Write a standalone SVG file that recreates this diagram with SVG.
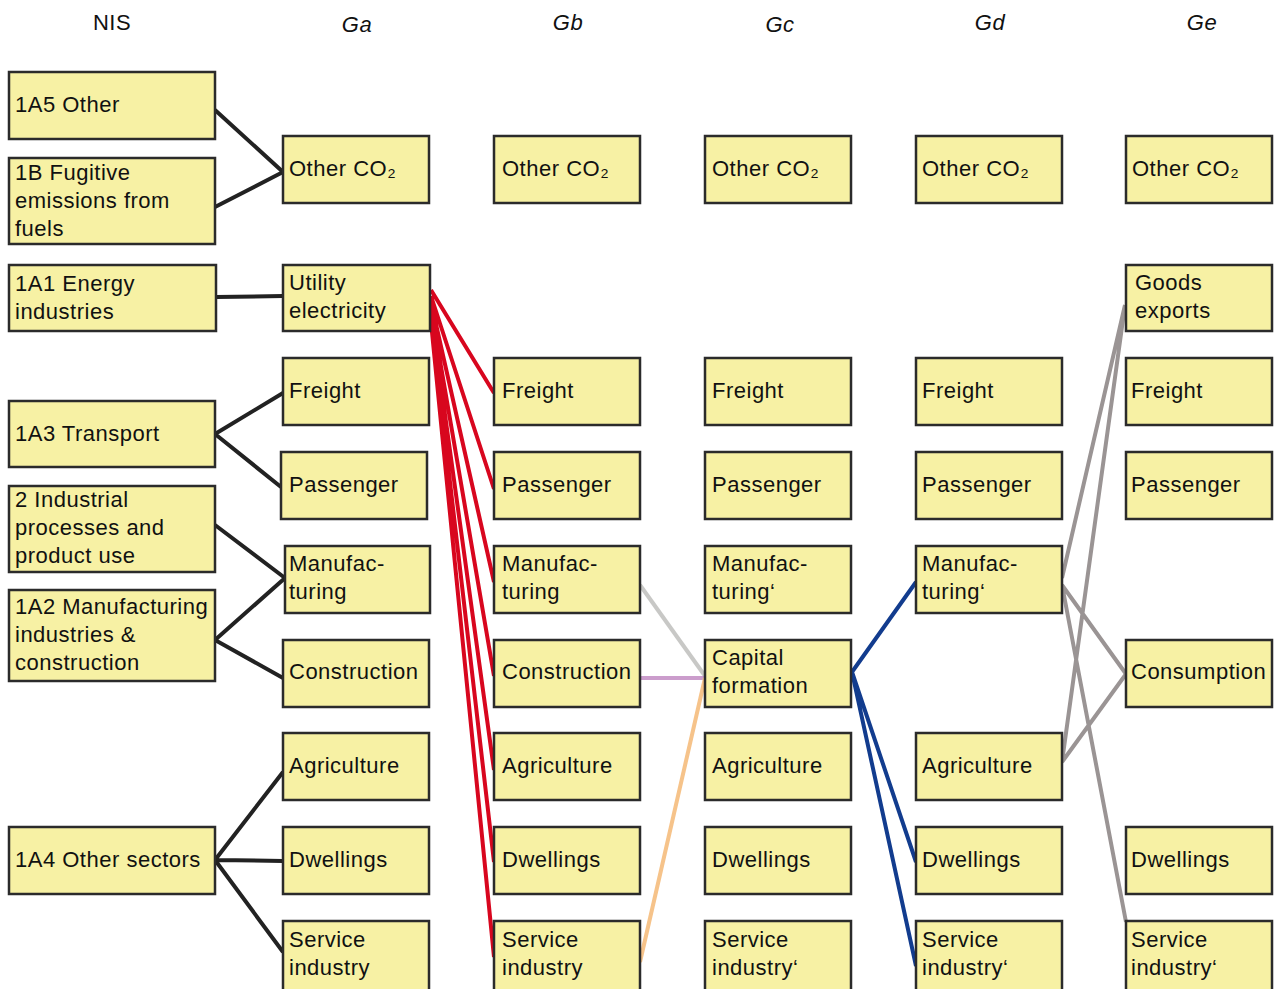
<svg xmlns="http://www.w3.org/2000/svg" width="1276" height="989" viewBox="0 0 1276 989">
<style>
.b{fill:#f7f1a4;stroke:#2b2b2b;stroke-width:2.5}
text{font-family:"Liberation Sans",Arial,sans-serif;font-size:22px;letter-spacing:0.5px;fill:#111}
.h{text-anchor:middle}
.i{font-style:italic}
.k{stroke:#222;stroke-width:4;fill:none}
.r{stroke:#d8061e;stroke-width:4;fill:none}
.u{stroke:#123c8e;stroke-width:4;fill:none}
.g{stroke:#9a9494;stroke-width:4;fill:none}
</style>
<rect width="1276" height="989" fill="#fff"/>
<g id="headers">
<text class="h" x="112" y="30">NIS</text>
<text class="h i" x="357" y="32">Ga</text>
<text class="h i" x="568" y="30">Gb</text>
<text class="h i" x="780" y="32">Gc</text>
<text class="h i" x="990" y="30">Gd</text>
<text class="h i" x="1202" y="30">Ge</text>
</g>
<g id="connectors">
<path class="k" d="M215,110L283,172M215,207L283,172M216,297L283,296M215,434L283,393M215,434L281,487M215,525L285,578M215,640L285,578M215,640L283,678M215,860L283,772M215,860L283,861M215,860L283,952"/>
<path class="r" d="M431,290L494,393M431,296L494,489M431,302L494,582M431,308L494,676M431,313L494,770M431,318L494,862M431,322L494,957"/>
<path d="M640,585L705,676" stroke="#c8c8c6" stroke-width="4"/>
<path d="M640,678L705,678" stroke="#cb9dcc" stroke-width="4"/>
<path d="M705,678L640,962" stroke="#f6c38a" stroke-width="4"/>
<path class="u" d="M852,672L916,582M852,672L916,862M852,672L916,966"/>
<path class="g" d="M1125,305L1062,578M1125,305L1062,762M1062,585L1126,674M1062,585L1126,922M1062,762L1126,674"/>
</g>
<g id="n_1a5"><rect class="b" x="9" y="72" width="206" height="67"/><text x="15" y="112">1A5 Other</text></g>
<g id="n_1b"><rect class="b" x="9" y="158" width="206" height="86"/><text x="15" y="180">1B Fugitive</text><text x="15" y="208">emissions from</text><text x="15" y="236">fuels</text></g>
<g id="n_1a1"><rect class="b" x="9" y="265" width="207" height="66"/><text x="15" y="291">1A1 Energy</text><text x="15" y="319">industries</text></g>
<g id="n_1a3"><rect class="b" x="9" y="401" width="206" height="66"/><text x="15" y="441">1A3 Transport</text></g>
<g id="n_2"><rect class="b" x="9" y="486" width="206" height="86"/><text x="15" y="507">2 Industrial</text><text x="15" y="535">processes and</text><text x="15" y="563">product use</text></g>
<g id="n_1a2"><rect class="b" x="9" y="590" width="206" height="91"/><text x="15" y="614">1A2 Manufacturing</text><text x="15" y="642">industries &amp;</text><text x="15" y="670">construction</text></g>
<g id="n_1a4"><rect class="b" x="9" y="827" width="206" height="67"/><text x="15" y="867">1A4 Other sectors</text></g>

<g id="ga_other"><rect class="b" x="283" y="136" width="146" height="67"/><text x="289" y="176">Other CO₂</text></g>
<g id="ga_util"><rect class="b" x="283" y="265" width="147" height="66"/><text x="289" y="290">Utility</text><text x="289" y="318">electricity</text></g>
<g id="ga_freight"><rect class="b" x="283" y="358" width="146" height="67"/><text x="289" y="398">Freight</text></g>
<g id="ga_pass"><rect class="b" x="281" y="452" width="146" height="67"/><text x="289" y="492">Passenger</text></g>
<g id="ga_manu"><rect class="b" x="285" y="546" width="145" height="67"/><text x="289" y="571">Manufac-</text><text x="289" y="599">turing</text></g>
<g id="ga_cons"><rect class="b" x="283" y="640" width="146" height="67"/><text x="289" y="679">Construction</text></g>
<g id="ga_agri"><rect class="b" x="283" y="733" width="146" height="67"/><text x="289" y="773">Agriculture</text></g>
<g id="ga_dwell"><rect class="b" x="283" y="827" width="146" height="67"/><text x="289" y="867">Dwellings</text></g>
<g id="ga_serv"><rect class="b" x="283" y="921" width="146" height="70"/><text x="289" y="947">Service</text><text x="289" y="975">industry</text></g>

<g id="gb_other"><rect class="b" x="494" y="136" width="146" height="67"/><text x="502" y="176">Other CO₂</text></g>
<g id="gb_freight"><rect class="b" x="494" y="358" width="146" height="67"/><text x="502" y="398">Freight</text></g>
<g id="gb_pass"><rect class="b" x="494" y="452" width="146" height="67"/><text x="502" y="492">Passenger</text></g>
<g id="gb_manu"><rect class="b" x="494" y="546" width="146" height="67"/><text x="502" y="571">Manufac-</text><text x="502" y="599">turing</text></g>
<g id="gb_cons"><rect class="b" x="494" y="640" width="146" height="67"/><text x="502" y="679">Construction</text></g>
<g id="gb_agri"><rect class="b" x="494" y="733" width="146" height="67"/><text x="502" y="773">Agriculture</text></g>
<g id="gb_dwell"><rect class="b" x="494" y="827" width="146" height="67"/><text x="502" y="867">Dwellings</text></g>
<g id="gb_serv"><rect class="b" x="494" y="921" width="146" height="70"/><text x="502" y="947">Service</text><text x="502" y="975">industry</text></g>

<g id="gc_other"><rect class="b" x="705" y="136" width="146" height="67"/><text x="712" y="176">Other CO₂</text></g>
<g id="gc_freight"><rect class="b" x="705" y="358" width="146" height="67"/><text x="712" y="398">Freight</text></g>
<g id="gc_pass"><rect class="b" x="705" y="452" width="146" height="67"/><text x="712" y="492">Passenger</text></g>
<g id="gc_manu"><rect class="b" x="705" y="546" width="146" height="67"/><text x="712" y="571">Manufac-</text><text x="712" y="599">turing‘</text></g>
<g id="gc_cap"><rect class="b" x="705" y="640" width="146" height="67"/><text x="712" y="665">Capital</text><text x="712" y="693">formation</text></g>
<g id="gc_agri"><rect class="b" x="705" y="733" width="146" height="67"/><text x="712" y="773">Agriculture</text></g>
<g id="gc_dwell"><rect class="b" x="705" y="827" width="146" height="67"/><text x="712" y="867">Dwellings</text></g>
<g id="gc_serv"><rect class="b" x="705" y="921" width="146" height="70"/><text x="712" y="947">Service</text><text x="712" y="975">industry‘</text></g>

<g id="gd_other"><rect class="b" x="916" y="136" width="146" height="67"/><text x="922" y="176">Other CO₂</text></g>
<g id="gd_freight"><rect class="b" x="916" y="358" width="146" height="67"/><text x="922" y="398">Freight</text></g>
<g id="gd_pass"><rect class="b" x="916" y="452" width="146" height="67"/><text x="922" y="492">Passenger</text></g>
<g id="gd_manu"><rect class="b" x="916" y="546" width="146" height="67"/><text x="922" y="571">Manufac-</text><text x="922" y="599">turing‘</text></g>
<g id="gd_agri"><rect class="b" x="916" y="733" width="146" height="67"/><text x="922" y="773">Agriculture</text></g>
<g id="gd_dwell"><rect class="b" x="916" y="827" width="146" height="67"/><text x="922" y="867">Dwellings</text></g>
<g id="gd_serv"><rect class="b" x="916" y="921" width="146" height="70"/><text x="922" y="947">Service</text><text x="922" y="975">industry‘</text></g>

<g id="ge_other"><rect class="b" x="1126" y="136" width="146" height="67"/><text x="1132" y="176">Other CO₂</text></g>
<g id="ge_goods"><rect class="b" x="1126" y="265" width="146" height="66"/><text x="1135" y="290">Goods</text><text x="1135" y="318">exports</text></g>
<g id="ge_freight"><rect class="b" x="1126" y="358" width="146" height="67"/><text x="1131" y="398">Freight</text></g>
<g id="ge_pass"><rect class="b" x="1126" y="452" width="146" height="67"/><text x="1131" y="492">Passenger</text></g>
<g id="ge_cons"><rect class="b" x="1126" y="640" width="146" height="67"/><text x="1131" y="679">Consumption</text></g>
<g id="ge_dwell"><rect class="b" x="1126" y="827" width="146" height="67"/><text x="1131" y="867">Dwellings</text></g>
<g id="ge_serv"><rect class="b" x="1126" y="921" width="146" height="70"/><text x="1131" y="947">Service</text><text x="1131" y="975">industry‘</text></g>
</svg>
